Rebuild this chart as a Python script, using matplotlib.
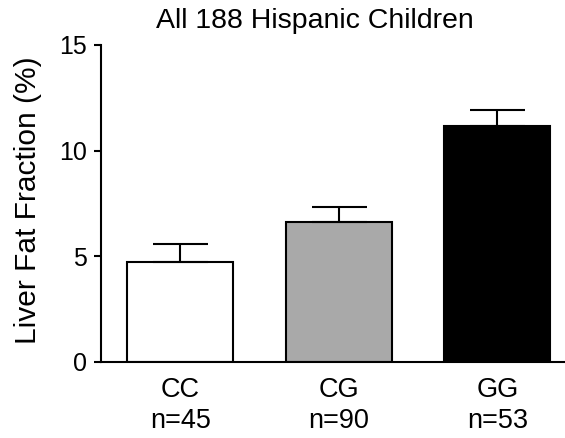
import numpy as np
import matplotlib
matplotlib.use("Agg")
import matplotlib.pyplot as plt

# ---------------------------------------------------------
# Data
# ---------------------------------------------------------
genotypes = ["CC", "CG", "GG"]
n_counts = [45, 90, 53]
liver_fat = [4.70, 6.61, 11.14]
liver_fat_sem = [0.88, 0.71, 0.79]
bar_colors = ["#ffffff", "#a9a9a9", "#000000"]
y_ticks = [0, 5, 10, 15]

plt.rcParams["font.family"] = ["Liberation Sans", "DejaVu Sans"]

W, H = 565, 438
fig = plt.figure(figsize=(W / 100, H / 100), dpi=100)

# axes placed in pixel terms
left, right, bottom, top = 101, 565, 361.5, 45
ax = fig.add_axes([left / W, 1 - bottom / H, (right - left) / W, (bottom - top) / H])

x = np.arange(len(genotypes))
ax.bar(x, liver_fat, width=0.668, color=bar_colors,
       edgecolor="black", linewidth=1.5, zorder=2)
ax.errorbar(x, liver_fat,
            yerr=[np.zeros(len(x)), liver_fat_sem],
            fmt="none", ecolor="black", elinewidth=1.5,
            capsize=19.8, capthick=1.5, zorder=3)

ax.set_xlim(-0.4994, 2.426)
ax.set_ylim(0, 15)
ax.set_yticks(y_ticks)
ax.set_yticklabels([str(t) for t in y_ticks], fontsize=18)

ax.set_xticks(x)
ax.set_xticklabels([f"{g}\nn={n}" for g, n in zip(genotypes, n_counts)],
                   fontsize=19.5, linespacing=1.28)
ax.tick_params(axis="x", length=0, pad=11)
ax.set_xticks([1], minor=True)
ax.tick_params(axis="x", which="minor", length=5, width=1.5, direction="out")
ax.tick_params(axis="y", length=5, width=1.5, direction="out", pad=5)

for side in ["top", "right"]:
    ax.spines[side].set_visible(False)
for side in ["left", "bottom"]:
    ax.spines[side].set_linewidth(1.5)

fig.text(0.558, 1 - 28.3 / H, "All 188 Hispanic Children",
         ha="center", va="baseline", fontsize=20.5)
fig.text(0.05, 0.543, "Liver Fat Fraction (%)", rotation=90,
         ha="center", va="center", fontsize=21.5)

plt.savefig("out.png", dpi=100)
